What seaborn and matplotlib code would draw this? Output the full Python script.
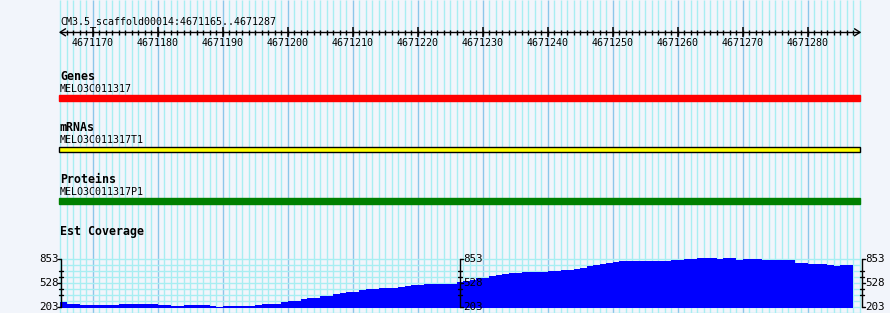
import numpy as np
import pandas as pd
import matplotlib
matplotlib.use("Agg")
import matplotlib.pyplot as plt
import seaborn as sns

# ---------------- data ----------------
seqid = "CM3.5_scaffold00014"
view_start = 4671165
view_end = 4671287
ruler_labels = [4671170, 4671180, 4671190, 4671200, 4671210, 4671220,
                4671230, 4671240, 4671250, 4671260, 4671270, 4671280]
track_titles = ["Genes", "mRNAs", "Proteins"]
feature_names = ["MELO3C011317", "MELO3C011317T1", "MELO3C011317P1"]
feature_colors = ["#ff0000", "#ffff00", "#008000"]
feature_edges = ["#ff0000", "#000000", "#008000"]
coverage_title = "Est Coverage"
cov_ticks = [203, 528, 853]
coverage = [268, 237, 237, 223, 223, 223, 223, 223, 223, 241,
            241, 241, 241, 241, 241, 223, 223, 210, 210, 223,
            223, 223, 223, 210, 203, 210, 210, 210, 210, 210,
            227, 241, 241, 241, 260, 273, 282, 305, 318, 318,
            345, 345, 372, 386, 399, 399, 426, 440, 440, 453,
            453, 453, 467, 481, 494, 494, 508, 508, 508, 508,
            508, 537, 555, 565, 593, 593, 615, 630, 640, 655,
            655, 670, 675, 668, 675, 680, 680, 695, 700, 710,
            725, 745, 760, 774, 790, 805, 815, 819, 819, 819,
            819, 819, 819, 819, 835, 835, 846, 846, 858, 858,
            858, 846, 858, 858, 837, 846, 846, 846, 833, 833,
            833, 833, 833, 796, 796, 782, 782, 782, 769, 755,
            769, 769]

# ---------------- layout (pixels) ----------------
W, H = 890, 313
BG = "#f2f5fb"
GRID = "#a8eef2"
GRID_MAJOR = "#8cc6ea"
MONO = "DejaVu Sans Mono"
x0_px, x1_px = 60, 860
nbp = view_end - view_start + 1
s = (x1_px - x0_px) / nbp          # pixels per bp

sns.set_theme(style="white")
plt.rcParams["font.family"] = [MONO, "DejaVu Sans"]

fig = plt.figure(figsize=(W / 100, H / 100), dpi=100, facecolor=BG)

# background axes: x in genomic coords, y in pixels
gax = fig.add_axes([0, 0, 1, 1])
gax.set_facecolor(BG)
gax.set_xlim(view_start - x0_px / s, view_start + (W - x0_px) / s)
gax.set_ylim(H, 0)
gax.axis("off")

# vertical grid (one line per bp, darker every 10 bp)
grid_pos = np.arange(view_start, view_start + nbp + 1)
minor = [p for p in grid_pos if p % 10 != 0]
major = [p for p in grid_pos if p % 10 == 0]
gax.vlines(minor, 0, H, color=GRID, lw=1, zorder=0)
gax.vlines(major, 0, H, color=GRID_MAJOR, lw=1, zorder=0)

# coverage track geometry
cov_lo, cov_hi = cov_ticks[0], cov_ticks[-1]
y_lo_px, y_hi_px = 306.5, 258.5
ppu = (y_lo_px - y_hi_px) / (cov_hi - cov_lo)
def cov_to_px(v):
    return y_lo_px - (v - cov_lo) * ppu

step = (cov_hi - cov_lo) / 8
hvals = [cov_hi - step * k for k in range(0, 10)]
gax.hlines([cov_to_px(v) for v in hvals], view_start, view_start + nbp,
           color=GRID, lw=1, zorder=0)

# ---------------- ruler ----------------
ry = 32.3
rend = view_start + nbp
gax.hlines(ry, view_start, rend, color="black", lw=1)
gax.vlines(np.arange(view_start + 1, view_end + 1), ry - 2.7, ry + 2.7,
           color="black", lw=1)
gax.vlines(ruler_labels, ry - 5.5, ry + 4.5, color="black", lw=1.1)
ah = 5.5 / s
gax.plot([view_start + ah, view_start, view_start + ah], [ry - 3.5, ry, ry + 3.5],
         color="black", lw=1)
gax.plot([rend - ah, rend, rend - ah], [ry - 3.5, ry, ry + 3.5],
         color="black", lw=1)
for p in ruler_labels:
    gax.text(p, 46, str(p), ha="center", va="baseline", fontsize=7.2,
             family=MONO, color="black")
gax.text(view_start, 24.3, f"{seqid}:{view_start}..{view_end}",
         ha="left", va="baseline", fontsize=7.2, family=MONO, color="black")

# ---------------- feature tracks ----------------
title_base = [80, 131, 182.7]
name_base = [91.7, 143.3, 195]
bar_top = [94.7, 146.7, 197.7]
bar_h = [6.0, 5.0, 6.3]
for t, n, c, ec, tb, nb, bt, bh in zip(track_titles, feature_names, feature_colors,
                                      feature_edges, title_base, name_base,
                                      bar_top, bar_h):
    gax.text(view_start, tb, t, ha="left", va="baseline", fontsize=8.4,
             family=MONO, fontweight="bold", color="black")
    gax.text(view_start, nb, n, ha="left", va="baseline", fontsize=7.2,
             family=MONO, color="black")
    gax.barh(bt + bh / 2, nbp + 0.2, left=view_start - 0.15, height=bh,
             color=c, edgecolor=ec, linewidth=1, zorder=3)

gax.text(view_start, 235, coverage_title, ha="left", va="baseline", fontsize=8.4,
         family=MONO, fontweight="bold", color="black")

# ---------------- coverage (seaborn) ----------------
ax_h_px = 50
top_val = cov_lo + ax_h_px / ppu
cax = fig.add_axes([x0_px / W, (H - y_lo_px) / H, (x1_px - x0_px) / W, ax_h_px / H])
cax.set_facecolor("none")
pos = np.arange(view_start, view_start + len(coverage))
df = pd.DataFrame({"pos": pos + 0.5, "cov": coverage})
sns.histplot(data=df, x="pos", weights="cov", binwidth=1,
             binrange=(view_start, view_start + len(coverage)), element="step",
             fill=True, color="#0000ff", alpha=1, linewidth=0, ax=cax)
cax.set_xlim(view_start, view_start + nbp)
cax.set_ylim(cov_lo, top_val)
cax.axis("off")

# coverage scales (left, middle, right)
minor_ticks = [690.5, 609.25, 446.75, 365.5]
scale_px = [(60.5, "left"), (460, "right"), (862, "right")]
for xp, side in scale_px:
    xg = view_start + (xp - x0_px) / s
    d = 1 / s
    cax.plot([xg, xg], [cov_lo, cov_hi], color="black", lw=1, clip_on=False, zorder=5)
    for v in cov_ticks:
        if side == "left":
            cax.plot([xg - 3 * d, xg], [v, v], color="black", lw=1, clip_on=False, zorder=5)
            cax.text(xg - 2 * d, v, str(v), ha="right", va="center", fontsize=7.8,
                     family=MONO, color="black", clip_on=False, zorder=6)
        else:
            cax.plot([xg, xg + 3 * d], [v, v], color="black", lw=1, clip_on=False, zorder=5)
            cax.text(xg + 3 * d, v, str(v), ha="left", va="center", fontsize=7.8,
                     family=MONO, color="black", clip_on=False, zorder=6)
    for v in minor_ticks:
        cax.plot([xg - 2 * d, xg + 2 * d], [v, v], color="black", lw=1,
                 clip_on=False, zorder=5)

fig.savefig("out.png", dpi=100, facecolor=BG)
